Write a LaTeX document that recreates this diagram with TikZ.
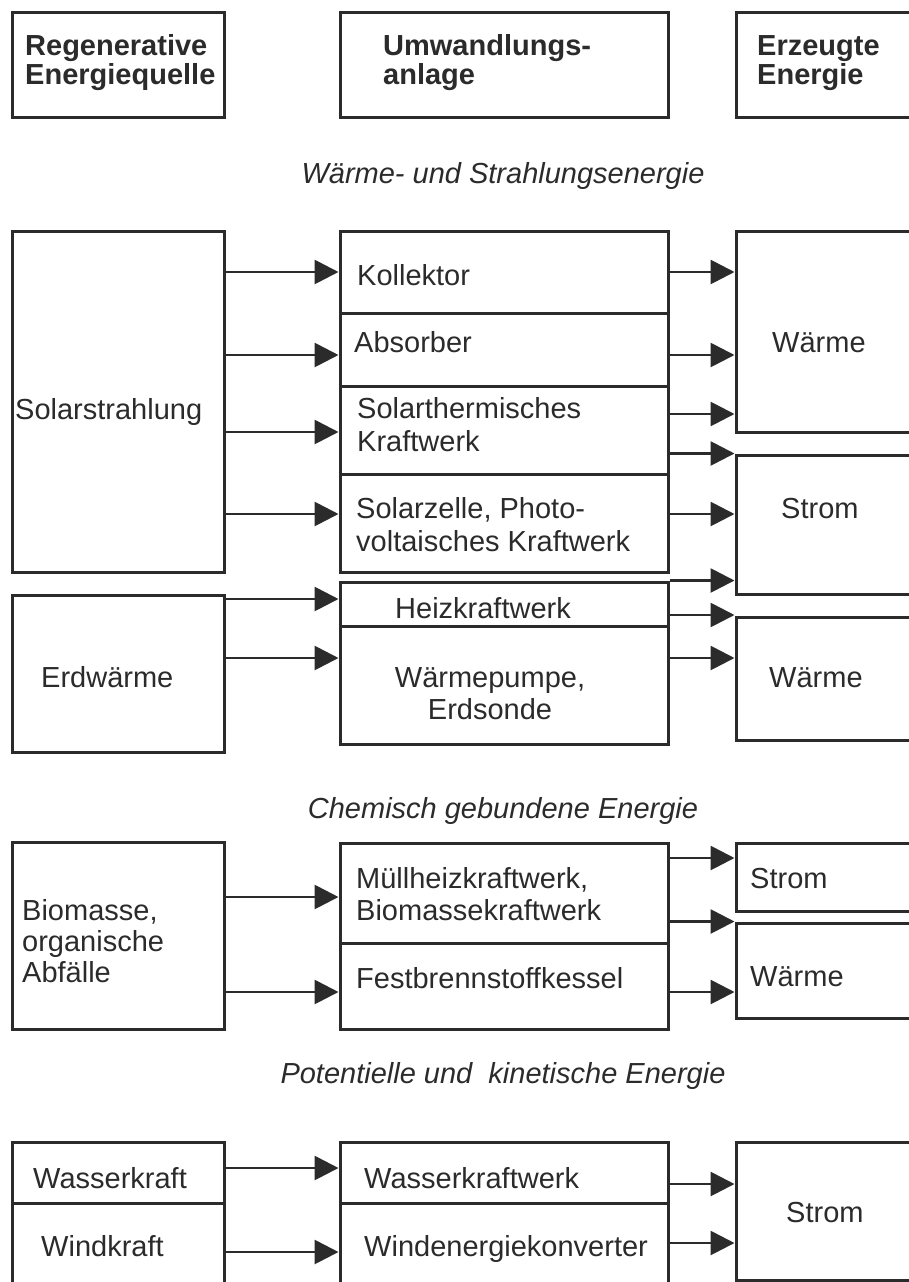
\documentclass[tikz,border=0pt]{standalone}
\usepackage{fontspec}
\setmainfont{Liberation Sans}
\usetikzlibrary{arrows.meta,fit}
\definecolor{ink}{HTML}{2B2B2B}
\tikzset{
  box/.style={draw=ink, line width=3pt, inner sep=0pt},
  txt/.style={inner sep=0pt, anchor=base west, text=ink, font=\fontsize{29}{32}\selectfont},
  headtxt/.style={txt, font=\fontsize{29}{32}\selectfont\bfseries},
  ctxt/.style={txt, anchor=base},
  ttl/.style={inner sep=0pt, anchor=base, text=ink, font=\fontsize{29}{32}\selectfont\itshape},
  arr/.style={draw=ink, line width=2.8pt, -{Triangle[length=24pt,width=24pt]}},
}
\begin{document}
\begin{tikzpicture}[x=1pt,y=-1pt]
\useasboundingbox (0,0) rectangle (909,1282);
\fill[white] (0,0) rectangle (909,1282);
\clip (0,0) rectangle (909,1282);

% header
\node[box, fit={(12,12) (224,117)}] (hL) {};
\node[box, fit={(340,12) (668,117)}] (hM) {};
\node[box, fit={(736,12) (912,117)}] (hR) {};
\node[headtxt] (tR1) at (25,55) {Regenerative};
\node[headtxt] (tR2) at (25,84) {Energiequelle};
\node[headtxt] (tU1) at (383,55) {Umwandlungs-};
\node[headtxt] (tU2) at (383,84) {anlage};
\node[headtxt] (tE1) at (757,55) {Erzeugte};
\node[headtxt] (tE2) at (757,84) {Energie};

% titles
\node[ttl] (ti1) at (503,183) {Wärme- und Strahlungsenergie};
\node[ttl] (ti2) at (503,818) {Chemisch gebundene Energie};
\node[ttl] (ti3) at (503,1083) {Potentielle und~~kinetische Energie};

% section 1
\node[box, fit={(12,231) (224,572)}] (solar) {};
\node[box, fit={(340,231) (668,313)}] (koll) {};
\node[box, fit={(340,313) (668,386)}] (abs) {};
\node[box, fit={(340,386) (668,474)}] (sth) {};
\node[box, fit={(340,474) (668,572)}] (pv) {};
\node[box, fit={(736,231) (912,432)}] (w1) {};
\node[box, fit={(736,455) (912,594)}] (s1) {};
\node[txt] (tSol) at (15,419) {Solarstrahlung};
\node[txt] (tKol) at (357,285) {Kollektor};
\node[txt] (tAbs) at (354,352) {Absorber};
\node[txt] (tSth1) at (357,418) {Solarthermisches};
\node[txt] (tSth2) at (357,451) {Kraftwerk};
\node[txt] (tPv1) at (356,518) {Solarzelle, Photo-};
\node[txt] (tPv2) at (356,551) {voltaisches Kraftwerk};
\node[txt] (tW1) at (772,352) {Wärme};
\node[txt] (tS1) at (781,518) {Strom};

% section 2
\node[box, fit={(12,595) (224,752)}] (erd) {};
\node[box, fit={(340,582) (668,626)}] (heiz) {};
\node[box, fit={(340,626) (668,744)}] (wp) {};
\node[box, fit={(736,617) (912,740)}] (w2) {};
\node[txt] (tHeiz) at (395,618) {Heizkraftwerk};
\node[txt] (tErd) at (41,687) {Erdwärme};
\node[ctxt] (tWp1) at (490,687) {Wärmepumpe,};
\node[ctxt] (tWp2) at (490,719) {Erdsonde};
\node[txt] (tW2) at (769,687) {Wärme};

% section 3
\node[box, fit={(12,842) (224,1029)}] (bio) {};
\node[box, fit={(340,843) (668,943)}] (muell) {};
\node[box, fit={(340,943) (668,1029)}] (fest) {};
\node[box, fit={(736,843) (912,911)}] (s3) {};
\node[box, fit={(736,923) (912,1018)}] (w3) {};
\node[txt] (tBio1) at (22,920) {Biomasse,};
\node[txt] (tBio2) at (22,951) {organische};
\node[txt] (tBio3) at (22,982) {Abfälle};
\node[txt] (tMu1) at (356,888) {Müllheizkraftwerk,};
\node[txt] (tMu2) at (356,920) {Biomassekraftwerk};
\node[txt] (tFe) at (356,988) {Festbrennstoffkessel};
\node[txt] (tS3) at (750,888) {Strom};
\node[txt] (tW3) at (750,986) {Wärme};

% section 4
\node[box, fit={(12,1142) (224,1203)}] (wass) {};
\node[box, fit={(12,1203) (224,1300)}] (wind) {};
\node[box, fit={(340,1142) (668,1203)}] (wkw) {};
\node[box, fit={(340,1203) (668,1300)}] (wek) {};
\node[box, fit={(736,1142) (912,1280)}] (s4) {};
\node[txt] (tWa) at (33,1188) {Wasserkraft};
\node[txt] (tWi) at (41,1256) {Windkraft};
\node[txt] (tWkw) at (364,1188) {Wasserkraftwerk};
\node[txt] (tWek) at (364,1256) {Windenergiekonverter};
\node[txt] (tS4) at (786,1222) {Strom};

% arrows section 1
\draw[arr] (solar.east |- 0,272) -- (koll.west |- 0,272);
\draw[arr] (solar.east |- 0,355) -- (abs.west |- 0,355);
\draw[arr] (solar.east |- 0,432) -- (sth.west |- 0,432);
\draw[arr] (solar.east |- 0,514) -- (pv.west |- 0,514);
\draw[arr] (koll.east |- 0,272) -- (w1.west |- 0,272);
\draw[arr] (abs.east |- 0,355) -- (w1.west |- 0,355);
\draw[arr] (sth.east |- 0,414) -- (w1.west |- 0,414);
\draw[arr] (sth.east |- s1.north west) -- (s1.north west);
\draw[arr] (pv.east |- 0,514) -- (s1.west |- 0,514);
\draw[arr] (heiz.north east) -- (s1.west |- heiz.north east);

% arrows section 2
\draw[arr] (erd.east |- 0,599) -- (heiz.west |- 0,599);
\draw[arr] (erd.east |- 0,658) -- (wp.west |- 0,658);
\draw[arr] (heiz.east |- 0,615) -- (w2.west |- 0,615);
\draw[arr] (wp.east |- 0,658) -- (w2.west |- 0,658);

% arrows section 3
\draw[arr] (bio.east |- 0,897) -- (muell.west |- 0,897);
\draw[arr] (bio.east |- 0,992) -- (fest.west |- 0,992);
\draw[arr] (muell.east |- 0,858) -- (s3.west |- 0,858);
\draw[arr] (muell.east |- w3.north west) -- (w3.north west);
\draw[arr] (fest.east |- 0,992) -- (w3.west |- 0,992);

% arrows section 4
\draw[arr] (wass.east |- 0,1168) -- (wkw.west |- 0,1168);
\draw[arr] (wind.east |- 0,1252) -- (wek.west |- 0,1252);
\draw[arr] (wkw.east |- 0,1184) -- (s4.west |- 0,1184);
\draw[arr] (wek.east |- 0,1243) -- (s4.west |- 0,1243);
\end{tikzpicture}
\end{document}
